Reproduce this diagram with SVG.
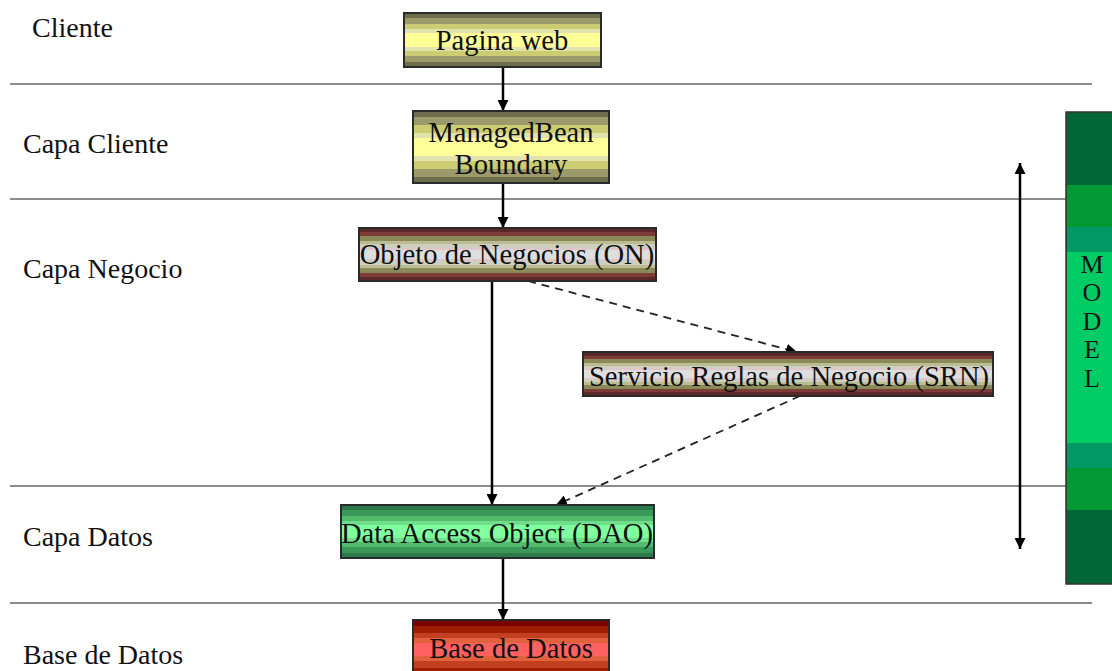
<svg xmlns="http://www.w3.org/2000/svg" width="1112" height="671" viewBox="0 0 1112 671">
  <style>
    .lbl { font-family: "Liberation Serif", "Times New Roman", serif; font-size: 28px; fill: #111; }
    .ntx { font-family: "Liberation Serif", "Times New Roman", serif; font-size: 28.6px; fill: #111; text-anchor: middle; }
    .mdl { font-family: "Liberation Serif", "Times New Roman", serif; font-size: 26px; fill: #111; text-anchor: middle; }
    .sep { stroke: #666; stroke-width: 1.5; }
    .box { stroke: #2a2a2a; stroke-width: 2; }
    .flow { stroke: #000; stroke-width: 2.5; fill: none; }
    .dash { stroke: #222; stroke-width: 1.8; fill: none; stroke-dasharray: 8 6; }
  </style>
  <defs>
    <marker id="head" viewBox="0 0 10 10" refX="10" refY="5" markerWidth="11" markerHeight="11" markerUnits="userSpaceOnUse" orient="auto-start-reverse">
      <path d="M0,0 L10,5 L0,10 z" fill="#000"/>
    </marker>
    <!-- banded fills, symmetric top to bottom -->
    <linearGradient id="gYellow" x1="0" y1="0" x2="0" y2="1">
      <stop offset="0" stop-color="#6e6e4c"/><stop offset="0.09" stop-color="#6e6e4c"/>
      <stop offset="0.09" stop-color="#9c9a6a"/><stop offset="0.2" stop-color="#9c9a6a"/>
      <stop offset="0.2" stop-color="#cccc72"/><stop offset="0.3" stop-color="#cccc72"/>
      <stop offset="0.3" stop-color="#e2e2ac"/><stop offset="0.37" stop-color="#e2e2ac"/>
      <stop offset="0.37" stop-color="#ffff99"/><stop offset="0.63" stop-color="#ffff99"/>
      <stop offset="0.63" stop-color="#e2e2ac"/><stop offset="0.7" stop-color="#e2e2ac"/>
      <stop offset="0.7" stop-color="#cccc72"/><stop offset="0.8" stop-color="#cccc72"/>
      <stop offset="0.8" stop-color="#9c9a6a"/><stop offset="0.91" stop-color="#9c9a6a"/>
      <stop offset="0.91" stop-color="#6e6e4c"/><stop offset="1" stop-color="#6e6e4c"/>
    </linearGradient>
    <linearGradient id="gMaroon" x1="0" y1="0" x2="0" y2="1">
      <stop offset="0" stop-color="#5a2828"/><stop offset="0.08" stop-color="#5a2828"/>
      <stop offset="0.08" stop-color="#7e3c38"/><stop offset="0.16" stop-color="#7e3c38"/>
      <stop offset="0.16" stop-color="#8a8a58"/><stop offset="0.24" stop-color="#8a8a58"/>
      <stop offset="0.24" stop-color="#bcbc92"/><stop offset="0.31" stop-color="#bcbc92"/>
      <stop offset="0.31" stop-color="#cfcfc0"/><stop offset="0.37" stop-color="#cfcfc0"/>
      <stop offset="0.37" stop-color="#dcc8c8"/><stop offset="0.42" stop-color="#dcc8c8"/>
      <stop offset="0.42" stop-color="#dedede"/><stop offset="0.58" stop-color="#dedede"/>
      <stop offset="0.58" stop-color="#dcc8c8"/><stop offset="0.63" stop-color="#dcc8c8"/>
      <stop offset="0.63" stop-color="#cfcfc0"/><stop offset="0.69" stop-color="#cfcfc0"/>
      <stop offset="0.69" stop-color="#bcbc92"/><stop offset="0.76" stop-color="#bcbc92"/>
      <stop offset="0.76" stop-color="#8a8a58"/><stop offset="0.84" stop-color="#8a8a58"/>
      <stop offset="0.84" stop-color="#7e3c38"/><stop offset="0.92" stop-color="#7e3c38"/>
      <stop offset="0.92" stop-color="#5a2828"/><stop offset="1" stop-color="#5a2828"/>
    </linearGradient>
    <linearGradient id="gGreen" x1="0" y1="0" x2="0" y2="1">
      <stop offset="0" stop-color="#2c7a4c"/><stop offset="0.1" stop-color="#2c7a4c"/>
      <stop offset="0.1" stop-color="#3a9858"/><stop offset="0.2" stop-color="#3a9858"/>
      <stop offset="0.2" stop-color="#52bc6c"/><stop offset="0.3" stop-color="#52bc6c"/>
      <stop offset="0.3" stop-color="#6ede8a"/><stop offset="0.38" stop-color="#6ede8a"/>
      <stop offset="0.38" stop-color="#80ff9e"/><stop offset="0.62" stop-color="#80ff9e"/>
      <stop offset="0.62" stop-color="#6ede8a"/><stop offset="0.7" stop-color="#6ede8a"/>
      <stop offset="0.7" stop-color="#52bc6c"/><stop offset="0.8" stop-color="#52bc6c"/>
      <stop offset="0.8" stop-color="#3a9858"/><stop offset="0.9" stop-color="#3a9858"/>
      <stop offset="0.9" stop-color="#2c7a4c"/><stop offset="1" stop-color="#2c7a4c"/>
    </linearGradient>
    <linearGradient id="gRed" x1="0" y1="0" x2="0" y2="1">
      <stop offset="0" stop-color="#7a0000"/><stop offset="0.12" stop-color="#7a0000"/>
      <stop offset="0.12" stop-color="#9e2000"/><stop offset="0.24" stop-color="#9e2000"/>
      <stop offset="0.24" stop-color="#c24020"/><stop offset="0.34" stop-color="#c24020"/>
      <stop offset="0.34" stop-color="#e2603c"/><stop offset="0.42" stop-color="#e2603c"/>
      <stop offset="0.42" stop-color="#ff6060"/><stop offset="0.66" stop-color="#ff6060"/>
      <stop offset="0.66" stop-color="#e2603c"/><stop offset="0.76" stop-color="#e2603c"/>
      <stop offset="0.76" stop-color="#c24020"/><stop offset="0.88" stop-color="#c24020"/>
      <stop offset="0.88" stop-color="#9e2000"/><stop offset="1" stop-color="#9e2000"/>
    </linearGradient>
  </defs>

  <!-- layer separators -->
  <g id="separators">
    <line class="sep" x1="10" y1="84" x2="1092" y2="84"/>
    <line class="sep" x1="10" y1="199" x2="1092" y2="199"/>
    <line class="sep" x1="10" y1="486" x2="1092" y2="486"/>
    <line class="sep" x1="10" y1="603" x2="1092" y2="603"/>
  </g>

  <!-- layer names -->
  <g id="layer-labels">
    <text class="lbl" x="32" y="37">Cliente</text>
    <text class="lbl" x="23" y="153">Capa Cliente</text>
    <text class="lbl" x="23" y="278">Capa Negocio</text>
    <text class="lbl" x="23" y="546">Capa Datos</text>
    <text class="lbl" x="23" y="664">Base de Datos</text>
  </g>

  <g id="connectors">
    <line class="flow" x1="503" y1="67" x2="503" y2="111" marker-end="url(#head)"/>
    <line class="flow" x1="503" y1="183" x2="503" y2="228" marker-end="url(#head)"/>
    <line class="flow" x1="492" y1="281" x2="492" y2="505" marker-end="url(#head)"/>
    <line class="dash" x1="528" y1="281" x2="797" y2="352" marker-end="url(#head)"/>
    <line class="dash" x1="800" y1="396" x2="556" y2="505" marker-end="url(#head)"/>
    <line class="flow" x1="503" y1="558" x2="503" y2="620" marker-end="url(#head)"/>
    <line class="flow" x1="1020" y1="163" x2="1020" y2="549" marker-start="url(#head)" marker-end="url(#head)"/>
  </g>

  <g id="pagina-web">
    <rect class="box" x="404" y="13" width="197" height="54" fill="url(#gYellow)"/>
    <text class="ntx" x="502" y="50">Pagina web</text>
  </g>

  <g id="managed-bean">
    <rect class="box" x="413" y="111" width="196" height="72" fill="url(#gYellow)"/>
    <text class="ntx" x="511" y="142">ManagedBean</text>
    <text class="ntx" x="511" y="174">Boundary</text>
  </g>

  <g id="objeto-negocios">
    <rect class="box" x="359" y="228" width="297" height="53" fill="url(#gMaroon)"/>
    <text class="ntx" x="507" y="264">Objeto de Negocios (ON)</text>
  </g>

  <g id="servicio-reglas">
    <rect class="box" x="583" y="352" width="410" height="44" fill="url(#gMaroon)"/>
    <text class="ntx" x="789" y="386">Servicio Reglas de Negocio (SRN)</text>
  </g>

  <g id="dao">
    <rect class="box" x="341" y="505" width="313" height="53" fill="url(#gGreen)"/>
    <text class="ntx" x="497" y="543">Data Access Object (DAO)</text>
  </g>

  <g id="base-datos">
    <rect class="box" x="413" y="620" width="196" height="54" fill="url(#gRed)"/>
    <text class="ntx" x="511" y="658">Base de Datos</text>
  </g>

  <g id="model">
    <rect x="1066" y="112" width="50" height="472" fill="#006633" stroke="#333" stroke-width="1.5"/>
    <rect x="1067" y="185" width="46" height="42" fill="#009933"/>
    <rect x="1067" y="227" width="46" height="25" fill="#009966"/>
    <rect x="1067" y="252" width="46" height="191" fill="#00cc66"/>
    <rect x="1067" y="443" width="46" height="25" fill="#009966"/>
    <rect x="1067" y="468" width="46" height="42" fill="#009933"/>
    <text class="mdl" x="1092" y="273">M</text>
    <text class="mdl" x="1092" y="301">O</text>
    <text class="mdl" x="1092" y="330">D</text>
    <text class="mdl" x="1092" y="358">E</text>
    <text class="mdl" x="1092" y="387">L</text>
  </g>
</svg>
